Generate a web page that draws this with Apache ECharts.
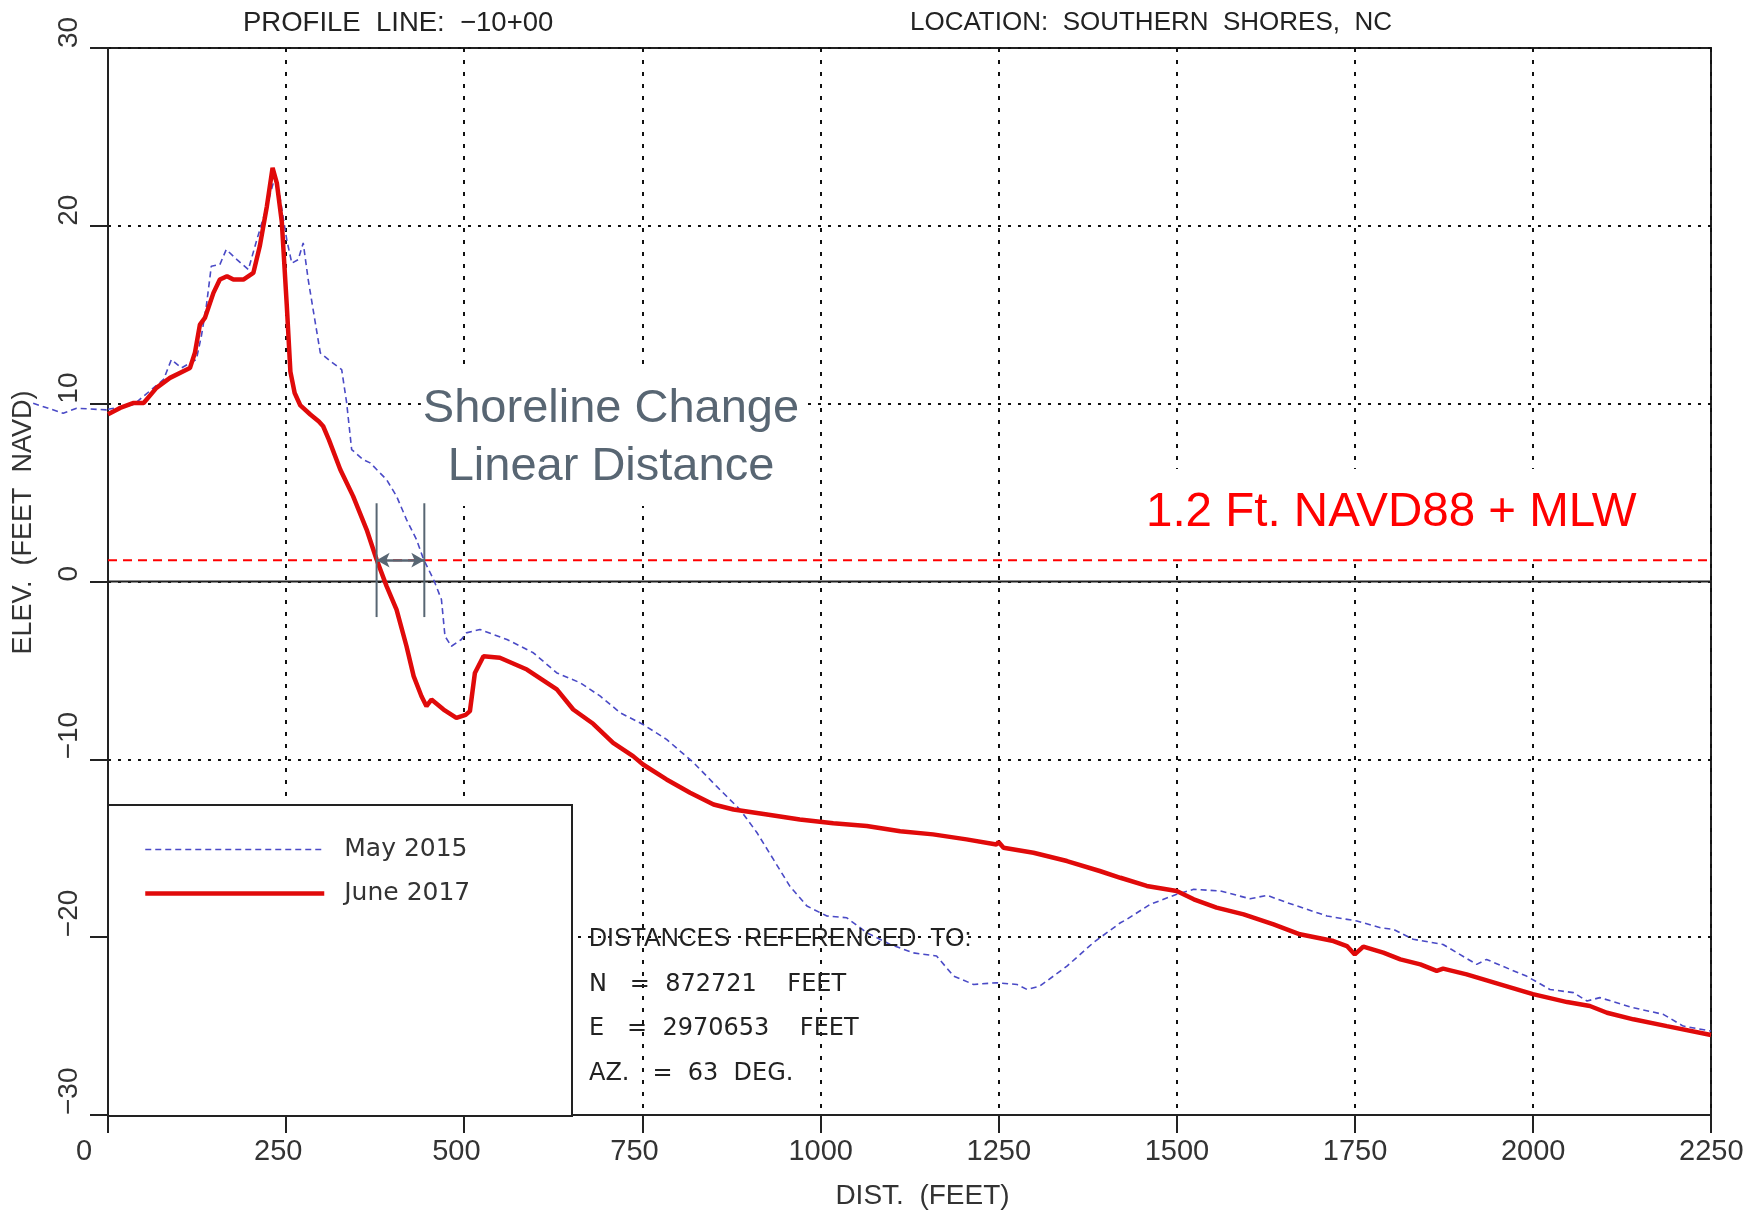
<!DOCTYPE html>
<html>
<head>
<meta charset="utf-8">
<script src="https://cdn.jsdelivr.net/npm/echarts/dist/echarts.min.js"></script>
<style>
html,body{margin:0;padding:0;background:#fff;}
#chart{width:1760px;height:1215px;}
</style>
</head>
<body>
<div id="chart"></div>
<script>
// ---------- data ----------
const distRange = [0, 2250];
const distInterval = 250;
const elevRange = [-30, 30];
const elevInterval = 10;

const seriesNames = ['May 2015', 'June 2017'];

// May 2015 survey [distance ft, elevation ft NAVD]
const may2015 = [
  [-105, 10.04], [-63, 9.48], [-44, 9.76], [-2, 9.67], [36, 9.95], [78, 11.36], [89, 12.48],
  [103, 12.01], [124, 12.48], [131, 13.79], [138, 15.48], [145, 17.73], [157, 17.82], [166, 18.67],
  [181, 18.1], [197, 17.54], [209, 19.23], [223, 21.1], [234, 22.7], [241, 21.7], [251, 19.2],
  [258, 17.9], [267, 18.1], [274, 19.04], [281, 16.98], [291, 14.54], [298, 12.86], [312, 12.39],
  [328, 11.92], [335, 10.04], [342, 7.42], [358, 6.86], [368, 6.67], [391, 5.73], [405, 4.8],
  [419, 3.48], [433, 2.36], [443, 1.24], [457, 0.11], [468, -1.01], [473, -3.08], [482, -3.64],
  [496, -3.26], [503, -2.89], [522, -2.7], [560, -3.26], [597, -4.01], [630, -5.14], [663, -5.7],
  [691, -6.45], [719, -7.38], [751, -8.04], [784, -8.88], [822, -10.19], [854, -11.51],
  [887, -12.82], [911, -14.13], [934, -15.63], [957, -17.13], [981, -18.25], [1009, -18.81],
  [1037, -18.91], [1065, -19.75], [1098, -20.41], [1130, -20.88], [1163, -21.06], [1187, -22.19],
  [1215, -22.66], [1247, -22.56], [1276, -22.66], [1290, -22.94], [1308, -22.75], [1346, -21.63],
  [1383, -20.31], [1421, -19.19], [1430, -19.0], [1463, -18.15], [1500, -17.59], [1524, -17.31],
  [1561, -17.4], [1603, -17.84], [1627, -17.65], [1655, -18.06], [1711, -18.81], [1753, -19.09],
  [1786, -19.47], [1804, -19.56], [1832, -20.12], [1874, -20.41], [1921, -21.53], [1935, -21.25],
  [1968, -21.81], [1991, -22.19], [2024, -22.94], [2057, -23.12], [2076, -23.59], [2094, -23.4],
  [2141, -23.97], [2183, -24.34], [2211, -25.0], [2250, -25.28]
];

// June 2017 survey [distance ft, elevation ft NAVD]
const june2017 = [
  [0, 9.4], [17, 9.76], [36, 10.04], [50, 10.04], [68, 10.89], [87, 11.45], [115, 12.0],
  [122, 12.86], [129, 14.45], [136, 14.82], [148, 16.23], [157, 16.98], [167, 17.17], [176, 16.98],
  [190, 16.98], [204, 17.35], [213, 18.85], [223, 21.1], [231, 23.26], [237, 22.4], [244, 20.2],
  [251, 15.48], [256, 11.8], [262, 10.6], [270, 9.9], [284, 9.39], [296, 9.0], [302, 8.73],
  [310, 7.98], [326, 6.3], [344, 4.8], [363, 2.92], [377, 1.24], [391, -0.26], [405, -1.58],
  [419, -3.64], [429, -5.32], [440, -6.45], [447, -7.01], [454, -6.64], [471, -7.2], [489, -7.67],
  [502, -7.5], [508, -7.29], [515, -5.14], [527, -4.2], [550, -4.29], [588, -4.95], [630, -6.07],
  [653, -7.2], [681, -8.0], [709, -9.07], [737, -9.82], [751, -10.29], [784, -11.13], [817, -11.88],
  [850, -12.54], [878, -12.82], [925, -13.1], [971, -13.38], [1018, -13.6], [1065, -13.75],
  [1112, -14.04], [1158, -14.22], [1205, -14.5], [1247, -14.79], [1250, -14.65], [1257, -14.97],
  [1299, -15.25], [1346, -15.72], [1392, -16.28], [1421, -16.66], [1458, -17.12], [1500, -17.4],
  [1524, -17.87], [1556, -18.34], [1594, -18.72], [1636, -19.28], [1673, -19.84], [1720, -20.22],
  [1739, -20.5], [1750, -20.97], [1762, -20.53], [1790, -20.87], [1814, -21.25], [1842, -21.53],
  [1865, -21.9], [1874, -21.77], [1907, -22.09], [1954, -22.65], [2000, -23.2], [2048, -23.65],
  [2080, -23.87], [2104, -24.25], [2141, -24.62], [2188, -25.0], [2250, -25.5]
];

// reference level and shoreline change markers
const mlwElevation = 1.2;
const mlwLabel = '1.2 Ft. NAVD88 + MLW';
const shorelineDistances = [377, 444];       // June 2017 / May 2015 crossings of MLW
const shorelineMarkSpan = [-2.0, 4.4];       // vertical extent of marker bars (ft)
const shorelineLabel = 'Shoreline Change\nLinear Distance';

const titleLeft = 'PROFILE  LINE:  \u221210+00';
const titleRight = 'LOCATION:  SOUTHERN  SHORES,  NC';
const infoLines = ['DISTANCES  REFERENCED  TO:', 'N   =  872721    FEET', 'E   =  2970653    FEET', 'AZ.   =  63  DEG.'];
const xName = 'DIST.  (FEET)';
const yName = 'ELEV.  (FEET  NAVD)';

// ---------- layout ----------
const W = 1760, H = 1215;
const G = {left: 108, right: 49, top: 48, bottom: 99};
const FONT = '"Liberation Sans", Arial, sans-serif';
const FONT2 = '"DejaVu Sans", "Liberation Sans", sans-serif';
const markColor = '#586673';
const blue = '#4a4ac6';
const red = '#e00a0a';

// the May 2015 survey starts left of the plotted axis range; draw that stub in a
// second (invisible) grid occupying the left margin, with the same scale.
const pxPerFt = (W - G.left - G.right) / (distRange[1] - distRange[0]);
const leftMarginMin = distRange[0] - G.left / pxPerFt;
const mayBefore = may2015.filter(p => p[0] < distRange[0]);
const mayInside = may2015.filter(p => p[0] >= distRange[0]);
if (mayInside.length && mayBefore.length) {
  // join point at the axis start, interpolated between the neighbouring readings
  const a = mayBefore[mayBefore.length - 1], b = mayInside[0];
  const t = (distRange[0] - a[0]) / (b[0] - a[0]);
  const joinY = a[1] + t * (b[1] - a[1]);
  mayBefore.push([distRange[0], joinY]);
  mayInside.unshift([distRange[0], joinY]);
}

const chart = echarts.init(document.getElementById('chart'), null, {renderer: 'canvas'});

const option = {
  animation: false,
  backgroundColor: '#ffffff',
  grid: [
    {left: G.left, right: G.right, top: G.top, bottom: G.bottom, show: true, borderColor: '#222', borderWidth: 2, containLabel: false},
    {left: 0, width: G.left, top: G.top, bottom: G.bottom, show: false, containLabel: false}
  ],
  xAxis: [{
    type: 'value', min: distRange[0], max: distRange[1], interval: distInterval, gridIndex: 0,
    name: xName, nameLocation: 'middle', nameGap: 67,
    nameTextStyle: {fontFamily: FONT, fontSize: 28, color: '#333', padding: [0, 0, 0, 26]},
    axisLine: {show: true, onZero: false, lineStyle: {color: '#222', width: 2}},
    axisTick: {show: true, length: 18, lineStyle: {color: '#222', width: 2}},
    axisLabel: {
      margin: 22, fontFamily: FONT, fontSize: 29, color: '#333',
      formatter: v => '{a|' + v + '}',
      rich: {a: {width: 64, align: 'left', fontFamily: FONT, fontSize: 29, color: '#333'}}
    },
    splitLine: {show: true, lineStyle: {color: '#111', width: 2, type: [4, 8]}}
  }, {
    type: 'value', min: leftMarginMin, max: distRange[0], gridIndex: 1, show: false,
    splitLine: {show: false}
  }],
  yAxis: [{
    type: 'value', min: elevRange[0], max: elevRange[1], interval: elevInterval, gridIndex: 0,
    name: yName, nameLocation: 'middle', nameGap: 71, nameRotate: 90,
    nameTextStyle: {fontFamily: FONT, fontSize: 27, color: '#333', padding: [0, 0, 0, 118]},
    axisLine: {show: true, onZero: false, lineStyle: {color: '#222', width: 2}},
    axisTick: {show: true, length: 18, lineStyle: {color: '#222', width: 2}},
    axisLabel: {
      rotate: 90, align: 'left', verticalAlign: 'bottom', margin: 25,
      fontFamily: FONT, fontSize: 28, color: '#333',
      formatter: v => String(v).replace('-', '\u2212')
    },
    splitLine: {show: true, lineStyle: {color: '#111', width: 2, type: [3, 7]}}
  }, {
    type: 'value', min: elevRange[0], max: elevRange[1], gridIndex: 1, show: false,
    splitLine: {show: false}
  }],
  legend: {
    data: seriesNames, orient: 'vertical', left: 143, top: 837, padding: 0,
    itemWidth: 179, itemHeight: 14, itemGap: 19,
    itemStyle: {opacity: 0},
    lineStyle: {width: 'inherit'},
    textStyle: {fontFamily: FONT2, fontSize: 25, color: '#333', padding: [0, 0, 0, 15]}
  },
  series: [
    {
      name: 'zero', type: 'line', data: [[distRange[0], 0], [distRange[1], 0]], symbol: 'none',
      lineStyle: {color: '#222', width: 2}, silent: true, z: 2
    },
    {
      name: 'mlw', type: 'line', data: [[distRange[0], mlwElevation], [distRange[1], mlwElevation]], symbol: 'none',
      lineStyle: {color: '#ff0000', width: 2, type: [9, 6]}, silent: true, z: 2
    },
    {
      name: seriesNames[0], type: 'line', data: mayInside, symbol: 'none',
      lineStyle: {color: blue, width: 1.6, type: [6, 4]}, itemStyle: {color: blue}, z: 3
    },
    {
      name: seriesNames[0], type: 'line', data: mayBefore, symbol: 'none', xAxisIndex: 1, yAxisIndex: 1,
      lineStyle: {color: blue, width: 1.6, type: [6, 4]}, itemStyle: {color: blue}, z: 3
    },
    {
      name: seriesNames[1], type: 'line', data: june2017, symbol: 'none',
      lineStyle: {color: red, width: 4.5}, itemStyle: {color: red}, z: 4
    },
    {
      name: 'mark0', type: 'line', symbol: 'none', silent: true, z: 5,
      data: [[shorelineDistances[0], shorelineMarkSpan[0]], [shorelineDistances[0], shorelineMarkSpan[1]]],
      lineStyle: {color: markColor, width: 2},
      markLine: {
        silent: true, symbol: ['arrow', 'arrow'], symbolSize: [11, 13],
        label: {show: false},
        lineStyle: {color: markColor, width: 2.5, type: 'solid'},
        data: [[{coord: [shorelineDistances[0], mlwElevation]}, {coord: [shorelineDistances[1], mlwElevation]}]]
      }
    },
    {
      name: 'mark1', type: 'line', symbol: 'none', silent: true, z: 5,
      data: [[shorelineDistances[1], shorelineMarkSpan[0]], [shorelineDistances[1], shorelineMarkSpan[1]]],
      lineStyle: {color: markColor, width: 2}
    }
  ],
  graphic: [
    {type: 'rect', z: 1, shape: {x: 108, y: 805, width: 464, height: 311},
     style: {fill: '#fff', stroke: '#222', lineWidth: 2}},
    {type: 'text', z: 1, x: 611, y: 438,
     style: {text: shorelineLabel, font: '47px ' + FONT, fill: markColor, align: 'center', verticalAlign: 'middle',
             lineHeight: 58, backgroundColor: '#fff', padding: [10, 2]}},
    {type: 'text', z: 1, x: 1140, y: 513,
     style: {text: mlwLabel, font: '47.5px ' + FONT, fill: '#ff0000', align: 'left', verticalAlign: 'middle',
             backgroundColor: '#fff', padding: [20, 6]}},
    {type: 'text', z: 6, x: 243, y: 23,
     style: {text: titleLeft, font: '27.5px ' + FONT, fill: '#222', align: 'left', verticalAlign: 'middle'}},
    {type: 'text', z: 6, x: 910, y: 23,
     style: {text: titleRight, font: '26px ' + FONT, fill: '#222', align: 'left', verticalAlign: 'middle'}},
    {type: 'text', z: 6, x: 589, y: 939,
     style: {text: infoLines[0], font: '25px ' + FONT, fill: '#222', align: 'left', verticalAlign: 'middle'}},
    {type: 'text', z: 6, x: 589, y: 985,
     style: {text: infoLines[1], font: '24px ' + FONT2, fill: '#222', align: 'left', verticalAlign: 'middle'}},
    {type: 'text', z: 6, x: 589, y: 1029,
     style: {text: infoLines[2], font: '24px ' + FONT2, fill: '#222', align: 'left', verticalAlign: 'middle'}},
    {type: 'text', z: 6, x: 589, y: 1074,
     style: {text: infoLines[3], font: '24px ' + FONT2, fill: '#222', align: 'left', verticalAlign: 'middle'}}
  ]
};

chart.setOption(option);
</script>
</body>
</html>
